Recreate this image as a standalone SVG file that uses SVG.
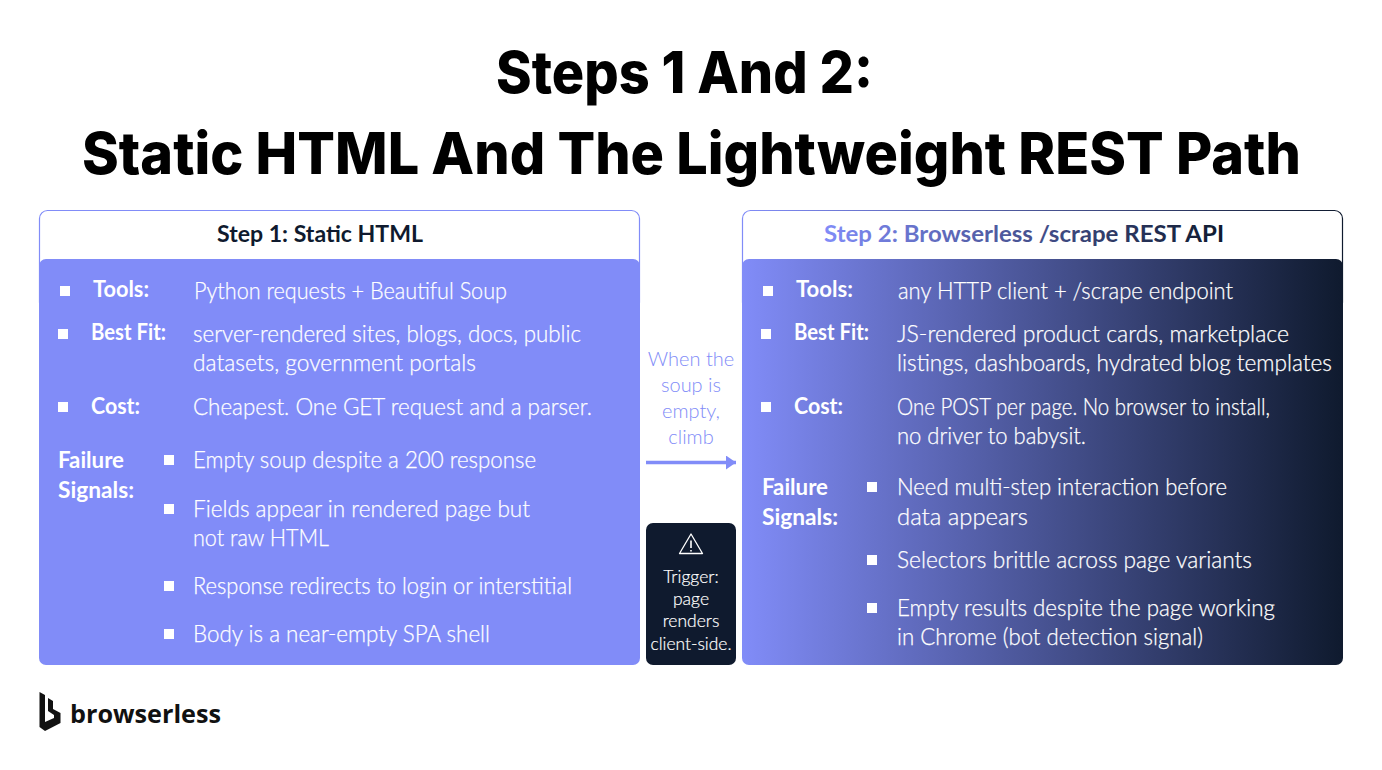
<svg xmlns="http://www.w3.org/2000/svg" width="1382" height="770" viewBox="0 0 1382 770">
<style>
text{font-family:"Lato","Open Sans","Liberation Sans",sans-serif}
.t{font-family:"Inter","Liberation Sans",sans-serif;font-size:58px;font-weight:800;fill:#000;text-anchor:start}
.h{font-size:23px;font-weight:700;fill:#0f1a2e}
.b{font-size:23px;font-weight:300;fill:#fff;stroke:#fff;stroke-width:.25px;transform:translateY(1px)}
.l{font-size:22px;font-weight:700;fill:#fff;transform:translateY(1px)}
.m{font-size:20px;font-weight:300;fill:#818cf8;text-anchor:middle}
.w{font-size:17.500px;font-weight:300;fill:#fff;stroke:#fff;stroke-width:.2px;text-anchor:middle}
.sq{fill:#fff}
</style>
<defs>
<linearGradient id="g" x1="0" x2="1" y1="0" y2="0"><stop offset="0" stop-color="#818cf8"/><stop offset="1" stop-color="#0f1a2e"/></linearGradient>
<linearGradient id="hg" gradientUnits="userSpaceOnUse" x1="824" x2="1224" y1="0" y2="0"><stop offset="0" stop-color="#818cf8"/><stop offset="1" stop-color="#0f1a2e"/></linearGradient>
<marker id="a" markerUnits="userSpaceOnUse" markerWidth="11" markerHeight="14" refX="10" refY="7" orient="auto"><path d="M0 0L10 7L0 14Z" fill="#818cf8"/></marker>
</defs>
<g id="title">
<text class="t" x="496" y="93" textLength="377" lengthAdjust="spacingAndGlyphs">Steps 1 And 2:</text>
<text class="t" x="82" y="174" textLength="1219" lengthAdjust="spacingAndGlyphs">Static HTML And The Lightweight REST Path</text>
</g>
<g id="step1">
<rect x="39.500" y="210.500" width="600" height="100" rx="8" fill="#fff" stroke="#818cf8" stroke-width="1.200"/>
<rect x="39" y="259" width="601" height="406" rx="7" fill="#818cf8"/>
<text class="h" x="217" y="242" textLength="206" lengthAdjust="spacingAndGlyphs">Step 1: Static HTML</text>
<rect class="sq" x="60" y="286" width="10" height="10"/>
<text class="l" x="93" y="296" textLength="56" lengthAdjust="spacingAndGlyphs">Tools:</text>
<text class="b" x="194" y="298" textLength="313" lengthAdjust="spacingAndGlyphs">Python requests + Beautiful Soup</text>
<rect class="sq" x="58" y="329" width="10" height="10"/>
<text class="l" x="91" y="339" textLength="75" lengthAdjust="spacingAndGlyphs">Best Fit:</text>
<text class="b" x="193" y="341" textLength="388" lengthAdjust="spacingAndGlyphs">server-rendered sites, blogs, docs, public</text>
<text class="b" x="193" y="370" textLength="283" lengthAdjust="spacingAndGlyphs">datasets, government portals</text>
<rect class="sq" x="58" y="402" width="10" height="10"/>
<text class="l" x="91" y="413" textLength="49" lengthAdjust="spacingAndGlyphs">Cost:</text>
<text class="b" x="193" y="414" textLength="399" lengthAdjust="spacingAndGlyphs">Cheapest. One GET request and a parser.</text>
<text class="l" x="58" y="467" textLength="66" lengthAdjust="spacingAndGlyphs">Failure</text>
<text class="l" x="58" y="497" textLength="76" lengthAdjust="spacingAndGlyphs">Signals:</text>
<rect class="sq" x="164" y="455" width="10" height="10"/>
<text class="b" x="193" y="467" textLength="343" lengthAdjust="spacingAndGlyphs">Empty soup despite a 200 response</text>
<rect class="sq" x="164" y="504" width="10" height="10"/>
<text class="b" x="193" y="516" textLength="337" lengthAdjust="spacingAndGlyphs">Fields appear in rendered page but</text>
<text class="b" x="193" y="545" textLength="136" lengthAdjust="spacingAndGlyphs">not raw HTML</text>
<rect class="sq" x="164" y="581" width="10" height="10"/>
<text class="b" x="193" y="593" textLength="379" lengthAdjust="spacingAndGlyphs">Response redirects to login or interstitial</text>
<rect class="sq" x="164" y="629" width="10" height="10"/>
<text class="b" x="193" y="641" textLength="297" lengthAdjust="spacingAndGlyphs">Body is a near-empty SPA shell</text>
</g>
<g id="connectors">
<line x1="646" y1="462.500" x2="736" y2="462.500" stroke="#818cf8" stroke-width="3.500" marker-end="url(#a)"/>
</g>
<g id="climb-label">
<text class="m" x="691" y="366">When the</text>
<text class="m" x="691" y="392">soup is</text>
<text class="m" x="691" y="418">empty,</text>
<text class="m" x="691" y="444">climb</text>
</g>
<g id="trigger">
<rect x="646" y="523" width="90" height="142" rx="7" fill="#0f1a2e"/>
<path d="M691 534L702.500 553.500H679.500Z" fill="none" stroke="#fff" stroke-width="1.300" stroke-linejoin="round"/>
<path d="M691 540.500V548M691 550V551.500" stroke="#fff" stroke-width="1.600" fill="none"/>
<text class="w" x="691" y="583">Trigger:</text>
<text class="w" x="691" y="605">page</text>
<text class="w" x="691" y="627">renders</text>
<text class="w" x="691" y="650" textLength="81" lengthAdjust="spacingAndGlyphs">client-side.</text>
</g>
<g id="step2">
<rect x="742.500" y="210.500" width="600" height="100" rx="8" fill="#fff" stroke="url(#g)" stroke-width="1.200"/>
<rect x="742" y="259" width="601" height="406" rx="7" fill="url(#g)"/>
<text class="h" x="824" y="242" textLength="400" lengthAdjust="spacingAndGlyphs" style="fill:url(#hg)">Step 2: Browserless /scrape REST API</text>
<rect class="sq" x="763" y="286" width="10" height="10"/>
<text class="l" x="796" y="296" textLength="57" lengthAdjust="spacingAndGlyphs">Tools:</text>
<text class="b" x="898" y="298" textLength="335" lengthAdjust="spacingAndGlyphs">any HTTP client + /scrape endpoint</text>
<rect class="sq" x="761" y="329" width="10" height="10"/>
<text class="l" x="794" y="339" textLength="75" lengthAdjust="spacingAndGlyphs">Best Fit:</text>
<text class="b" x="897" y="341" textLength="392" lengthAdjust="spacingAndGlyphs">JS-rendered product cards, marketplace</text>
<text class="b" x="897" y="370" textLength="435" lengthAdjust="spacingAndGlyphs">listings, dashboards, hydrated blog templates</text>
<rect class="sq" x="761" y="402" width="10" height="10"/>
<text class="l" x="794" y="413" textLength="49" lengthAdjust="spacingAndGlyphs">Cost:</text>
<text class="b" x="897" y="414" textLength="373" lengthAdjust="spacingAndGlyphs">One POST per page. No browser to install,</text>
<text class="b" x="897" y="443" textLength="189" lengthAdjust="spacingAndGlyphs">no driver to babysit.</text>
<text class="l" x="762" y="494" textLength="66" lengthAdjust="spacingAndGlyphs">Failure</text>
<text class="l" x="762" y="524" textLength="76" lengthAdjust="spacingAndGlyphs">Signals:</text>
<rect class="sq" x="867" y="482" width="10" height="10"/>
<text class="b" x="897" y="494" textLength="330" lengthAdjust="spacingAndGlyphs">Need multi-step interaction before</text>
<text class="b" x="897" y="524" textLength="131" lengthAdjust="spacingAndGlyphs">data appears</text>
<rect class="sq" x="867" y="555" width="10" height="10"/>
<text class="b" x="897" y="567" textLength="355" lengthAdjust="spacingAndGlyphs">Selectors brittle across page variants</text>
<rect class="sq" x="867" y="603" width="10" height="10"/>
<text class="b" x="897" y="615" textLength="378" lengthAdjust="spacingAndGlyphs">Empty results despite the page working</text>
<text class="b" x="897" y="644" textLength="306" lengthAdjust="spacingAndGlyphs">in Chrome (bot detection signal)</text>
</g>
<g id="logo">
<path d="M39.500 692L45 695V722L54 718V715L48 711V698L53 701V709L60.500 713V723L45 731L39.500 727Z" fill="#111"/>
<text x="70" y="723" font-size="25" font-weight="700" fill="#111" style="font-family:'Open Sans','Noto Sans',sans-serif" textLength="151" lengthAdjust="spacingAndGlyphs">browserless</text>
</g>
</svg>
